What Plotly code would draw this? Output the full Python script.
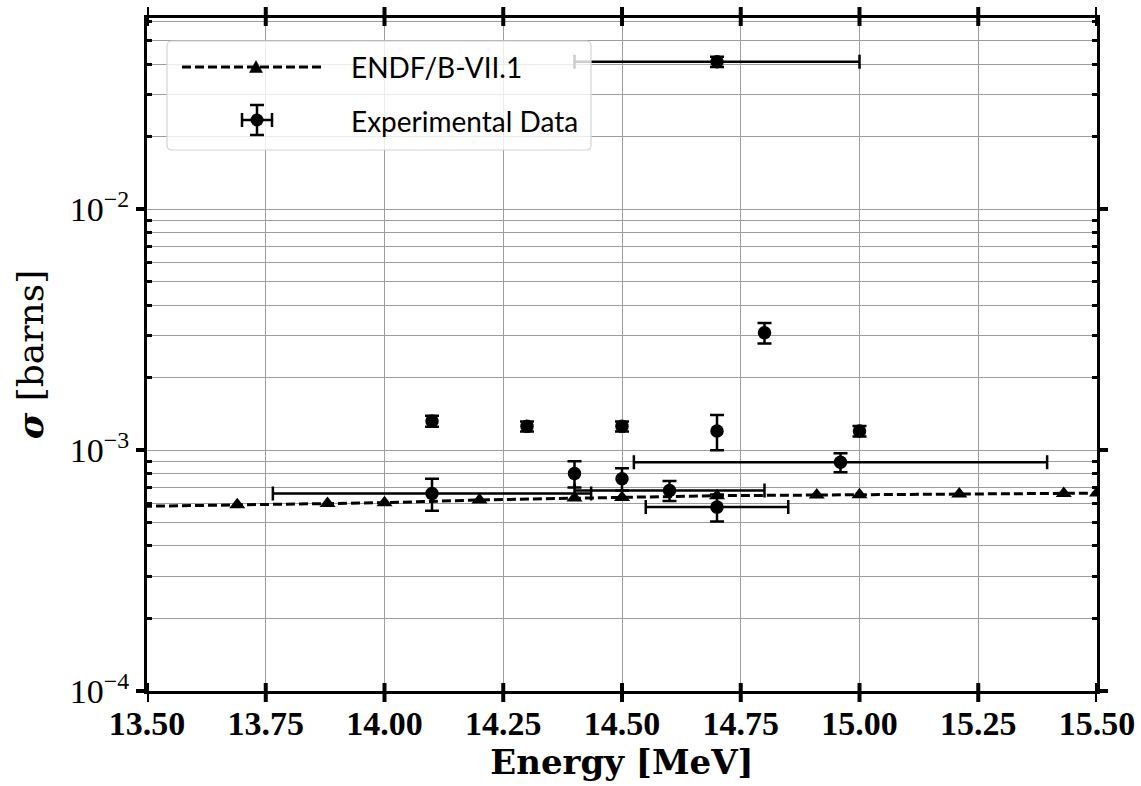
import math
import plotly.graph_objects as go

# ENDF/B-VII.1 evaluated cross section
endf_energy = [13.30, 13.69, 13.88, 14.00, 14.20, 14.40, 14.50, 14.70, 14.91, 15.00, 15.21, 15.43, 15.50]
endf_sigma = [5.77e-4, 5.93e-4, 6.01e-4, 6.05e-4, 6.21e-4, 6.33e-4, 6.36e-4, 6.47e-4, 6.51e-4, 6.53e-4,
              6.57e-4, 6.61e-4, 6.63e-4]

# Experimental measurements (energy, cross section and their uncertainties)
exp_energy = [14.10, 14.30, 14.50, 14.70, 14.70, 14.80, 15.00, 14.96, 14.40, 14.50, 14.60, 14.70, 14.10]
exp_sigma = [1.32e-3, 1.255e-3, 1.255e-3, 4.10e-2, 1.20e-3, 3.07e-3, 1.20e-3, 8.9e-4, 8.0e-4, 7.6e-4,
             6.8e-4, 5.8e-4, 6.6e-4]
exp_sigma_err = [0.07e-3, 0.06e-3, 0.06e-3, 2.0e-3, 0.2e-3, 0.3e-3, 0.06e-3, 0.08e-3, 0.1e-3, 0.08e-3,
                 0.065e-3, 0.075e-3, 0.1e-3]
exp_energy_err = [0, 0, 0, 0.30, 0, 0, 0, 0.435, 0, 0, 0.20, 0.15, 0.335]

# Axis ticks
x_ticks = [13.50, 13.75, 14.00, 14.25, 14.50, 14.75, 15.00, 15.25, 15.50]
x_tick_labels = ["13.50", "13.75", "14.00", "14.25", "14.50", "14.75", "15.00", "15.25", "15.50"]
y_ticks = [1e-4, 1e-3, 1e-2]
y_tick_labels = ["10<sup>\u22124</sup>", "10<sup>\u22123</sup>", "10<sup>\u22122</sup>"]
y_minor_ticks = [m * 10.0 ** e for e in (-4, -3, -2) for m in range(2, 10)]

series_names = ["ENDF/B-VII.1", "Experimental Data"]

X_RANGE = [13.5, 15.5]
Y_RANGE = [-4.0, -1.206]

W, H = 1141, 786
ML, MR, MT, MB = 147, 44, 18, 95
PW, PH = W - ML - MR, H - MT - MB
GRID = "#9c9c9c"
TICK_W = 4


def pxx(x):
    return (x - ML) / PW


def pxy(y):
    return (H - MB - y) / PH


fig = go.Figure()

fig.add_trace(go.Scatter(
    x=endf_energy, y=endf_sigma, mode="lines+markers", name=series_names[0],
    line=dict(color="black", width=3, dash="9px,4px"),
    marker=dict(symbol="triangle-up", size=14, color="black"),
    showlegend=False,
))

# split measurements into those with and without an energy uncertainty
with_x = [i for i, e in enumerate(exp_energy_err) if e > 0]
no_x = [i for i, e in enumerate(exp_energy_err) if e == 0]

for idx, has_x in ((no_x, False), (with_x, True)):
    tr = dict(
        x=[exp_energy[i] for i in idx], y=[exp_sigma[i] for i in idx],
        mode="markers", name=series_names[1], showlegend=False,
        marker=dict(symbol="circle", size=13.5, color="black"),
        error_y=dict(type="data", array=[exp_sigma_err[i] for i in idx],
                     color="black", thickness=2.5, width=7),
    )
    if has_x:
        tr["error_x"] = dict(type="data", array=[exp_energy_err[i] for i in idx],
                             color="black", thickness=2.5, width=7)
    fig.add_trace(go.Scatter(**tr))

tick_font_x = dict(family="Liberation Serif", size=34, color="black", weight="bold")
tick_font_y = dict(family="Liberation Serif", size=34, color="black")

fig.update_layout(
    width=W, height=H,
    margin=dict(l=ML, r=MR, t=MT, b=MB, autoexpand=False),
    paper_bgcolor="white", plot_bgcolor="white",
    showlegend=False,
    xaxis=dict(
        range=X_RANGE, tickvals=x_ticks, ticktext=x_tick_labels, automargin=False,
        ticks="",
        showline=True, linewidth=3, linecolor="black", mirror=True,
        showgrid=True, gridcolor=GRID, gridwidth=1, zeroline=False,
        tickfont=tick_font_x,
        title=dict(text="Energy [MeV]", standoff=9,
                   font=dict(family="DejaVu Serif", size=34, color="black", weight="bold")),
    ),
    yaxis=dict(
        type="log", range=Y_RANGE, tickvals=y_ticks, ticktext=y_tick_labels, automargin=False,
        ticks="outside", ticklen=8, tickwidth=TICK_W, tickcolor="black",
        showline=True, linewidth=3, linecolor="black", mirror="allticks",
        showgrid=True, gridcolor=GRID, gridwidth=1, zeroline=False,
        tickfont=tick_font_y,
        minor=dict(tickvals=y_minor_ticks, ticks="inside", ticklen=5, tickwidth=2.5,
                   tickcolor="black", showgrid=True, gridcolor=GRID, gridwidth=1),
        title=dict(text="<b><i>\u03c3</i></b> [barns]", standoff=16,
                   font=dict(family="DejaVu Serif", size=36, color="black")),
    ),
)

shapes = []
tick_line = dict(color="black", width=TICK_W)
# energy ticks crossing the bottom and top frame
for t in x_ticks:
    shapes.append(dict(type="line", xref="x", yref="paper", layer="above",
                       x0=t, x1=t, y0=-11 / PH, y1=8 / PH, line=tick_line))
    shapes.append(dict(type="line", xref="x", yref="paper", layer="above",
                       x0=t, x1=t, y0=1 - 8 / PH, y1=1 + 11 / PH, line=tick_line))
# inner half of the decade ticks on the left and right frame
for v in y_ticks:
    lv = math.log10(v)
    shapes.append(dict(type="line", xref="paper", yref="y", layer="above",
                       x0=0, x1=8 / PW, y0=lv, y1=lv, line=tick_line))
    shapes.append(dict(type="line", xref="paper", yref="y", layer="above",
                       x0=1 - 8 / PW, x1=1, y0=lv, y1=lv, line=tick_line))

# legend box (drawn over the data, semi-transparent)
bx0, bx1, by0, by1, r = 167, 591, 41, 150, 5
X0, X1 = pxx(bx0), pxx(bx1)
Y0, Y1 = pxy(by1), pxy(by0)
rx, ry = r / PW, r / PH
box_path = (f"M{X0 + rx},{Y0} L{X1 - rx},{Y0} Q{X1},{Y0} {X1},{Y0 + ry} "
            f"L{X1},{Y1 - ry} Q{X1},{Y1} {X1 - rx},{Y1} L{X0 + rx},{Y1} "
            f"Q{X0},{Y1} {X0},{Y1 - ry} L{X0},{Y0 + ry} Q{X0},{Y0} {X0 + rx},{Y0} Z")
shapes.append(dict(type="path", path=box_path, xref="paper", yref="paper", layer="above",
                   fillcolor="rgba(255,255,255,0.8)", line=dict(color="#d4d4d4", width=1.2)))

# legend glyph: dashed line with triangle
ly1 = 67
shapes.append(dict(type="line", xref="paper", yref="paper", layer="above",
                   x0=pxx(182), x1=pxx(322), y0=pxy(ly1), y1=pxy(ly1),
                   line=dict(color="black", width=3, dash="9px,4px")))
tcx = 256
shapes.append(dict(type="path", xref="paper", yref="paper", layer="above",
                   path=f"M{pxx(tcx - 6.5)},{pxy(ly1 + 5.5)} L{pxx(tcx + 6.5)},{pxy(ly1 + 5.5)} "
                        f"L{pxx(tcx)},{pxy(ly1 - 6.5)} Z",
                   fillcolor="black", line=dict(color="black", width=0.5)))

# legend glyph: marker with error bars
ly2, mcx = 120, 257
seg = [((mcx - 15, ly2), (mcx + 15, ly2)), ((mcx, ly2 - 15), (mcx, ly2 + 15)),
       ((mcx - 15, ly2 - 7), (mcx - 15, ly2 + 7)), ((mcx + 15, ly2 - 7), (mcx + 15, ly2 + 7)),
       ((mcx - 7, ly2 - 15), (mcx + 7, ly2 - 15)), ((mcx - 7, ly2 + 15), (mcx + 7, ly2 + 15))]
for (a, b) in seg:
    shapes.append(dict(type="line", xref="paper", yref="paper", layer="above",
                       x0=pxx(a[0]), y0=pxy(a[1]), x1=pxx(b[0]), y1=pxy(b[1]),
                       line=dict(color="black", width=2.5)))
shapes.append(dict(type="circle", xref="paper", yref="paper", layer="above",
                   x0=pxx(mcx - 6.5), x1=pxx(mcx + 6.5), y0=pxy(ly2 + 6.5), y1=pxy(ly2 - 6.5),
                   fillcolor="black", line=dict(color="black", width=0)))

legend_font = dict(family="Lato", size=28, color="black")
annotations = [
    dict(text=series_names[0], xref="paper", yref="paper", x=pxx(349), y=pxy(67),
         xanchor="left", yanchor="middle", showarrow=False, font=legend_font),
    dict(text=series_names[1], xref="paper", yref="paper", x=pxx(349), y=pxy(121),
         xanchor="left", yanchor="middle", showarrow=False, font=legend_font),
]

fig.update_layout(shapes=shapes, annotations=annotations)

fig.write_html("out.html")
